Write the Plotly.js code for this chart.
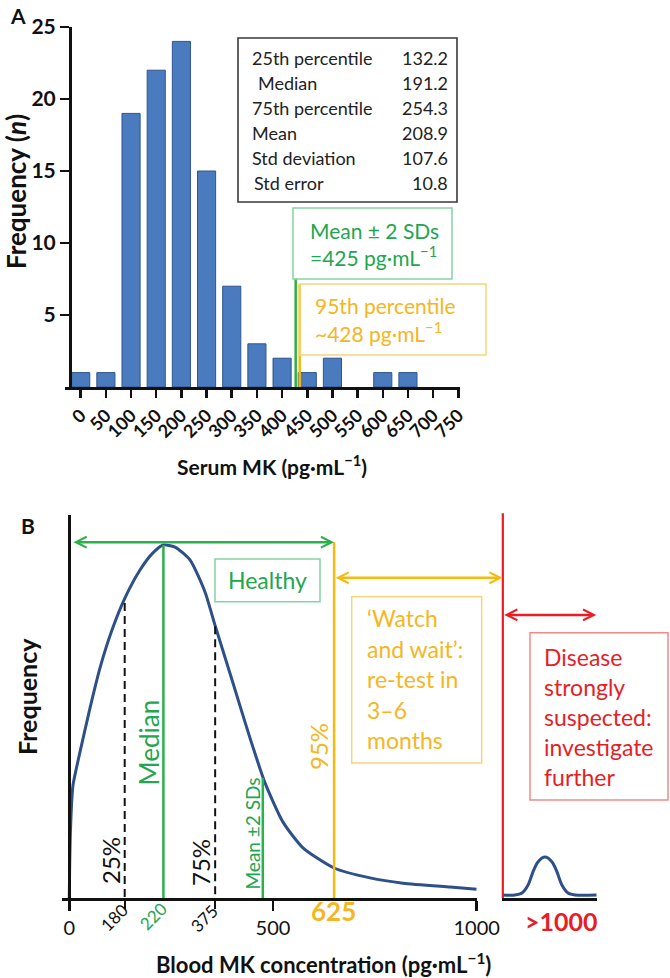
<!DOCTYPE html>
<html><head><meta charset="utf-8">
<script src="https://cdn.plot.ly/plotly-3.0.1.min.js"></script>
<style>html,body{margin:0;padding:0;background:#fff}#chart{width:670px;height:978px}</style>
</head><body><div id="chart"></div>
<script>
// ---------- Panel A data ----------
const binStarts = [0,50,100,150,200,250,300,350,400,450,500,550,600,650,700,750];
const binCounts = [1,1,19,22,24,15,7,3,2,1,2,0,1,1,0,0];
const yTicksA = [5,10,15,20,25];
const statLabels = ['25th percentile','Median','75th percentile','Mean','Std deviation','Std error'];
const statValues = ['132.2','191.2','254.3','208.9','107.6','10.8'];
const meanSdLineA = {x:[427,427], y:[7.5,0]};      // Mean ± 2 SDs marker (as drawn)
const pct95LineA  = {x:[435,435], y:[7.15,0]};     // 95th percentile marker (as drawn)

// ---------- Panel B data (schematic) ----------
const curveX = [0,0.74,2.45,5.4,9.1,26.3,50.8,75.4,104.8,136.7,173.5,203.0,230.7,259.4,296.2,333.1,357.6,401.8,443.6,480.4,524.6,573.6,649.7,738.1,819.1,934.5,1000];
const curveY = [0,0.079,0.178,0.263,0.320,0.414,0.538,0.652,0.759,0.850,0.929,0.975,1.0,0.994,0.958,0.867,0.773,0.609,0.453,0.326,0.215,0.142,0.085,0.057,0.042,0.031,0.025];
const insetX = [1000,1052,1082,1108,1129,1150,1180,1210,1231,1252,1278,1308,1400];
const insetY = [0.0085,0.0085,0.014,0.037,0.074,0.102,0.116,0.102,0.074,0.037,0.014,0.0085,0.0085];
const q25Line   = {x:[136,136], y:[0.836,0]};
const medianLine= {x:[231,231], y:[1.0,0]};
const q75Line   = {x:[358,358], y:[0.77,0]};
const meanSdLine= {x:[475,475], y:[0.34,0]};
const p95Line   = {x:[650,650], y:[1.008,0]};
const redLine   = {x:[1000,1000], y:[1.09,0]};
const tickValsB = [0,500,1000];
const tickTextB = ['0','500','1000'];
const minorTickValsB = [136,358];

// ---------- helpers ----------
const W=670,H=978;
const px=v=>v/W, py=v=>1-v/H;
const FONT='Lato, sans-serif';
const GREEN='#2bb04a', GREENT='#22a650', GREENB='#86d3a3';
const YEL='#f6b90e', YELT='#f5b622', YELB='#f7d57f';
const RED='#ee1c24', REDT='#e61e25', REDB='#f08a8a';
const BLUE='#2e5089';
const x3Dom=[61.7,476.7], x3Rng=[-18.65,1000];
const x4Dom=[501.5,596.7], x4Rng=[995,1400];
const mapX=(v,d,r)=>d[0]+(v-r[0])/(r[1]-r[0])*(d[1]-d[0]);

const traces = [
  {type:'bar', x:binStarts, y:binCounts.map(v=>v>0?v:null), width:36, xaxis:'x', yaxis:'y',
   marker:{color:'#4a7bbf', line:{color:'#2f5590', width:1}}, hoverinfo:'skip'},
  {type:'scatter', mode:'lines', x:meanSdLineA.x, y:meanSdLineA.y, xaxis:'x', yaxis:'y', line:{color:GREEN,width:2.5}},
  {type:'scatter', mode:'lines', x:pct95LineA.x, y:pct95LineA.y, xaxis:'x', yaxis:'y', line:{color:YEL,width:2.5}},
  {type:'scatter', mode:'lines', x:curveX, y:curveY, xaxis:'x3', yaxis:'y3', line:{color:BLUE,width:3,shape:'spline',smoothing:0.6}},
  {type:'scatter', mode:'lines', x:medianLine.x, y:medianLine.y, xaxis:'x3', yaxis:'y3', line:{color:GREEN,width:2.5}},
  {type:'scatter', mode:'lines', x:q25Line.x, y:q25Line.y, xaxis:'x3', yaxis:'y3', line:{color:'#111',width:2,dash:'8px,5px'}},
  {type:'scatter', mode:'lines', x:q75Line.x, y:q75Line.y, xaxis:'x3', yaxis:'y3', line:{color:'#111',width:2,dash:'8px,5px'}},
  {type:'scatter', mode:'lines', x:meanSdLine.x, y:meanSdLine.y, xaxis:'x3', yaxis:'y3', line:{color:GREEN,width:2.5}},
  {type:'scatter', mode:'lines', x:p95Line.x, y:p95Line.y, xaxis:'x3', yaxis:'y3', line:{color:YEL,width:2.5}},
  {type:'scatter', mode:'lines', x:insetX, y:insetY, xaxis:'x4', yaxis:'y4', line:{color:BLUE,width:3,shape:'spline',smoothing:0.8}},
  {type:'scatter', mode:'lines', x:redLine.x, y:redLine.y, xaxis:'x4', yaxis:'y4', line:{color:RED,width:2.5}}
];

const ann = [];
function txt(t,x,y,o){ann.push(Object.assign({text:t,xref:'paper',yref:'paper',x:px(x),y:py(y),showarrow:false,xanchor:'center',yanchor:'middle',font:{family:FONT,size:18,color:'#111'}},o||{}));}

// Panel A texts
txt('A',18,15,{font:{family:FONT,size:21,color:'#111',weight:700}});
txt('Frequency (<i>n</i>)',16,192,{textangle:-90,font:{family:FONT,size:26,color:'#111',weight:700}});
txt('Serum MK (pg·mL<sup>−1</sup>)',272,465,{font:{family:FONT,size:21,color:'#111',weight:700}});
const rowY=[58,83,108,133,158,183];
const rowX=[250,256,250,250,250,252];
statLabels.forEach((s,i)=>{
  txt(s,rowX[i],rowY[i],{xanchor:'left',font:{family:FONT,size:18,color:'#222'}});
  txt(statValues[i],450,rowY[i],{xanchor:'right',font:{family:FONT,size:18,color:'#222'}});
});
txt('Mean ± 2 SDs',308,230,{xanchor:'left',font:{family:FONT,size:21,color:GREENT}});
txt('=425 pg·mL<sup>−1</sup>',308,256,{xanchor:'left',font:{family:FONT,size:21,color:GREENT}});
txt('95th percentile',313,305,{xanchor:'left',font:{family:FONT,size:21,color:YELT}});
txt('~428 pg·mL<sup>−1</sup>',313,332,{xanchor:'left',font:{family:FONT,size:21,color:YELT}});

// Panel B texts
txt('B',28,525,{font:{family:FONT,size:21,color:'#111',weight:700}});
txt('Frequency',27,697,{textangle:-90,font:{family:FONT,size:25,color:'#111',weight:700}});
txt('Blood MK concentration (pg·mL<sup>−1</sup>)',323,963,{font:{family:FONT,size:22,color:'#111',weight:700}});
txt('Healthy',267.5,580,{font:{family:FONT,size:23,color:GREENT}});
txt('Median',148.5,743,{textangle:-90,font:{family:FONT,size:26,color:GREENT}});
txt('25%',110,861,{textangle:-90,font:{family:FONT,size:24,color:'#111'}});
txt('75%',200,862,{textangle:-90,font:{family:FONT,size:24,color:'#111'}});
txt('Mean ±2 SDs',251.5,834,{textangle:-90,font:{family:FONT,size:19,color:GREENT}});
txt('95%',318,747,{textangle:-90,font:{family:FONT,size:24,color:YELT}});
txt('180',114,917,{textangle:-45,font:{family:FONT,size:17,color:'#111'}});
txt('220',152.5,916,{textangle:-45,font:{family:FONT,size:17,color:GREENT}});
txt('375',204,918,{textangle:-45,font:{family:FONT,size:17,color:'#111'}});
txt('625',333.5,911,{font:{family:FONT,size:26,color:YELT,weight:700}});
txt('>1000',561,921,{font:{family:FONT,size:25,color:REDT,weight:700}});
const watchLines=['‘Watch','and wait’:','re-test in','3–6','months'];
const watchY=[618,648.5,679,709.5,740];
watchLines.forEach((s,i)=>txt(s,365,watchY[i],{xanchor:'left',font:{family:FONT,size:23,color:YELT}}));
const disLines=['Disease','strongly','suspected:','investigate','further'];
const disY=[657,687,717,747,777];
disLines.forEach((s,i)=>txt(s,541.5,disY[i],{xanchor:'left',font:{family:FONT,size:23,color:REDT}}));

// arrows
const arrowBase={showarrow:true,text:'',arrowside:'end+start',arrowhead:5,startarrowhead:5,arrowsize:0.85,startarrowsize:0.85,arrowwidth:2.5,standoff:0,startstandoff:0};
ann.push(Object.assign({},arrowBase,{xref:'x3',yref:'y3',axref:'x3',ayref:'y3',x:p95Line.x[0],y:1.008,ax:6.6,ay:1.008,arrowcolor:GREEN}));
const yTail = mapX(p95Line.x[0],x3Dom,x3Rng), yHead = mapX(redLine.x[0],x4Dom,x4Rng);
ann.push(Object.assign({},arrowBase,{xref:'x4',yref:'y3',axref:'pixel',ayref:'pixel',x:redLine.x[0],y:0.907,ax:yTail-yHead,ay:0,arrowcolor:YEL}));
ann.push(Object.assign({},arrowBase,{xref:'x4',yref:'y3',axref:'x4',ayref:'y3',x:1398,y:0.802,ax:redLine.x[0],ay:0.802,arrowcolor:RED}));

function box(x0,y0,x1,y1,c,w){return {type:'rect',xref:'paper',yref:'paper',x0:px(x0),x1:px(x1),y0:py(y1),y1:py(y0),line:{color:c,width:w||1.5},fillcolor:'rgba(0,0,0,0)',layer:'above'};}
const shapes=[
  box(238,38,457,202,'#3a3a3a',1.6),
  box(293,208,452,279,GREENB,1.5),
  box(300,284,486,355,YELB,1.5),
  box(215,559,320,601.7,GREENB,1.5),
  box(351.7,596.7,481.7,763,YELB,1.5),
  box(530,632.7,668,800,REDB,1.5)
];

const axCommon={showgrid:false,zeroline:false,showline:true,linecolor:'#111',linewidth:3,tickcolor:'#111',automargin:false};
const layout={
  width:W,height:H,margin:{l:0,r:0,t:0,b:0},paper_bgcolor:'#fff',plot_bgcolor:'rgba(0,0,0,0)',showlegend:false,
  font:{family:FONT,color:'#111'},
  xaxis:Object.assign({},axCommon,{domain:[px(65),px(460)],range:[-31.2,753.4],anchor:'y',tickvals:binStarts,ticktext:binStarts.map(String),tickangle:-45,ticks:'outside',ticklen:8,tickwidth:2.5,tickfont:{family:FONT,size:18,weight:700,color:'#111'}}),
  yaxis:Object.assign({},axCommon,{domain:[py(387),py(27)],range:[0,25],anchor:'free',position:px(70),tickvals:yTicksA,ticks:'outside',ticklen:9,tickwidth:2.5,tickfont:{family:FONT,size:21,weight:700,color:'#111'}}),
  xaxis3:Object.assign({},axCommon,{domain:[px(x3Dom[0]),px(x3Dom[1])],range:x3Rng,anchor:'y3',tickvals:tickValsB,ticktext:tickTextB,tickangle:0,ticks:'outside',ticklen:10,tickwidth:2.5,tickfont:{family:FONT,size:20,color:'#111'},
    minor:{tickmode:'array',tickvals:minorTickValsB,ticks:'outside',ticklen:8,tickwidth:2,tickcolor:'#111',showgrid:false}}),
  yaxis3:Object.assign({},axCommon,{domain:[py(898),py(515)],range:[0,1.085],anchor:'free',position:px(69.3),ticks:'',showticklabels:false}),
  xaxis4:Object.assign({},axCommon,{domain:[px(x4Dom[0]),px(x4Dom[1])],range:x4Rng,anchor:'y4',ticks:'',showticklabels:false}),
  yaxis4:{domain:[py(898),py(505)],range:[0,1.1133],anchor:'x4',visible:false},
  annotations:ann,shapes:shapes
};
Plotly.newPlot('chart',traces,layout,{displayModeBar:false,staticPlot:true});
</script></body></html>
